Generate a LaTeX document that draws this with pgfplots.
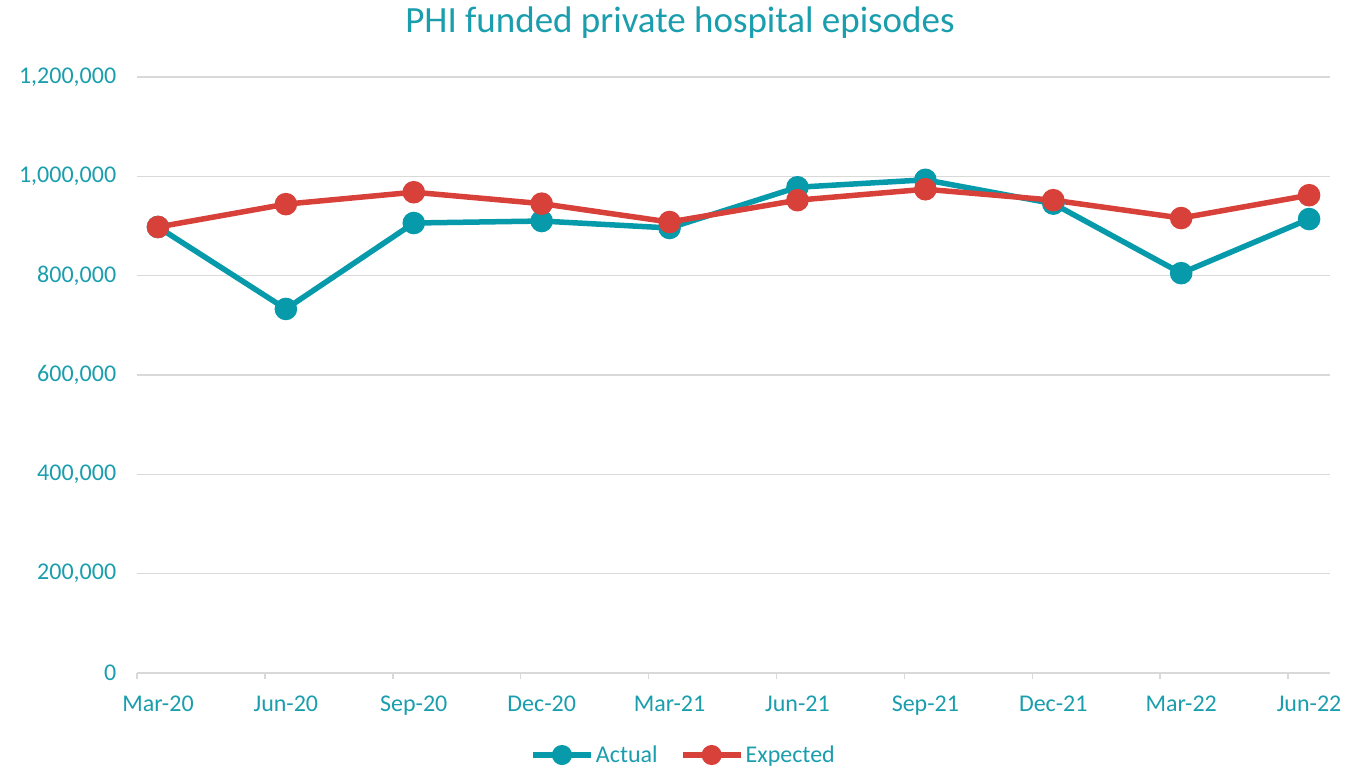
\documentclass[border=0pt]{standalone}
\usepackage{pgfplots}
\pgfplotsset{compat=1.18}
\usepackage{fontspec}
\setmainfont{Carlito}
\definecolor{txt}{HTML}{1A9EAD}
\definecolor{act}{HTML}{069AAA}
\definecolor{expc}{HTML}{D8413A}
\definecolor{grd}{HTML}{D9D9D9}
\begin{document}
\begin{tikzpicture}
\useasboundingbox (0,0) rectangle (1349pt,772pt);
\node[text=txt,font=\fontsize{37}{42}\selectfont] at (680pt,749pt) {PHI funded private hospital episodes};
\begin{axis}[
  at={(137pt,99pt)}, anchor=south west,
  scale only axis, width=1193pt, height=596pt,
  xmin=-0.164, xmax=9.164, ymin=0, ymax=1200000,
  axis x line*=bottom, axis y line*=left,
  x axis line style={grd, line width=1.5pt, -},
  y axis line style={draw=none},
  xtick={0,...,9},
  xticklabels={Mar-20,Jun-20,Sep-20,Dec-20,Mar-21,Jun-21,Sep-21,Dec-21,Mar-22,Jun-22},
  major x tick style={draw=none},
  minor xtick={-0.164,0.836,1.836,2.836,3.836,4.836,5.836,6.836,7.836,8.836},
  minor x tick style={grd, line width=1.5pt},
  minor tick length=6pt,
  tick align=outside,
  x tick label style={text=txt, font=\fontsize{24}{28}\selectfont, yshift=-15pt},
  ytick={0,200000,...,1200000},
  ymajorgrids, grid style={grd, line width=1.5pt},
  y tick label style={text=txt, font=\fontsize{24}{28}\selectfont},
  yticklabel style={xshift=-13pt},
  major y tick style={draw=none},
  yticklabel pos=left,
  scaled y ticks=false,
  /pgf/number format/.cd, fixed, 1000 sep={,}, assume math mode=true,
  /pgfplots/.cd,
  clip=false,
  legend columns=2,
  legend style={draw=none, fill=none, at={(0.458,-0.1376)}, anchor=center,
    font=\fontsize{24}{28}\selectfont, text=txt,
    /tikz/every even column/.append style={column sep=20pt},
    nodes={inner xsep=2pt}},
  legend image code/.code={\draw[#1,line width=6pt,mark repeat=2,mark phase=2,mark size=7pt] plot coordinates {(0pt,0pt) (29pt,0pt) (58pt,0pt)};},
]
\addplot[act, line width=5.5pt, mark=*, mark size=8.5pt, mark options={solid}] coordinates {
(0,898000) (1,733000) (2,906000) (3,910000) (4,896000) (5,978000) (6,993000) (7,945000) (8,805000) (9,914000)};
\addlegendentry{Actual}
\addplot[expc, line width=5.5pt, mark=*, mark size=8.5pt, mark options={solid}] coordinates {
(0,898000) (1,944000) (2,968000) (3,945000) (4,908000) (5,952000) (6,974000) (7,952000) (8,916000) (9,962000)};
\addlegendentry{Expected}
\end{axis}
\end{tikzpicture}
\end{document}
